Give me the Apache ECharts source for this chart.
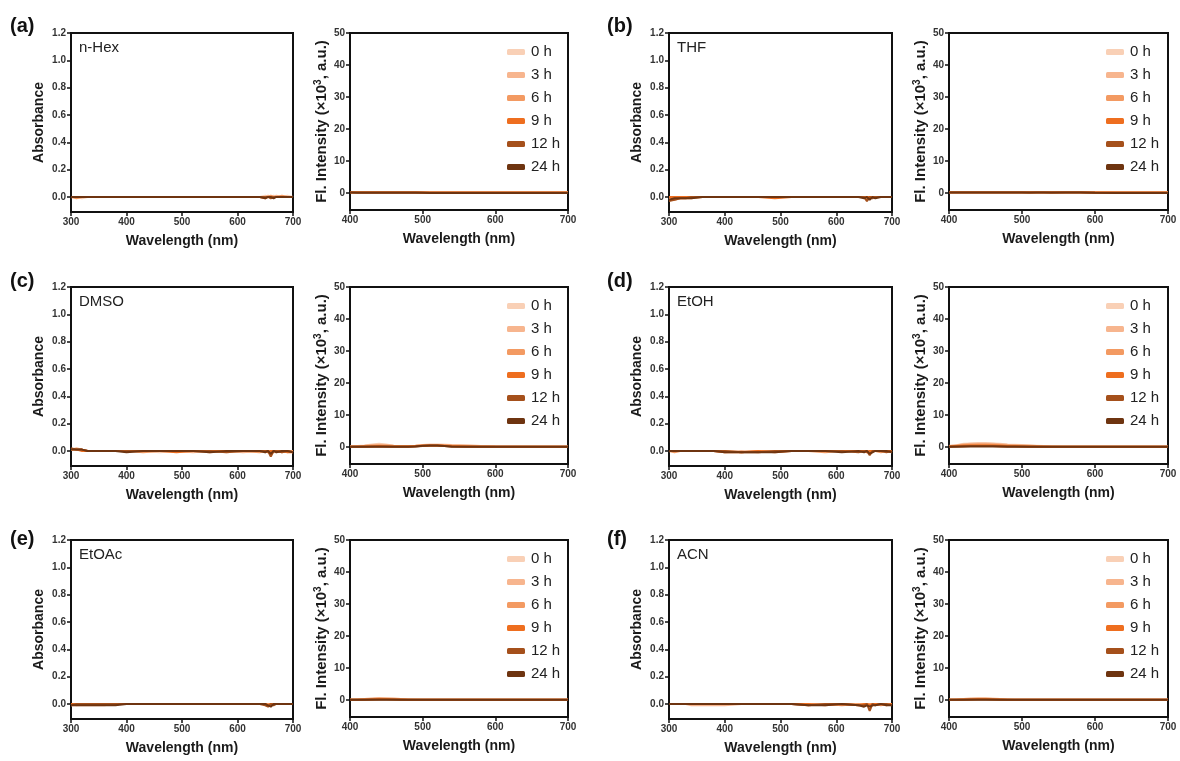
<!DOCTYPE html>
<html>
<head>
<meta charset="utf-8">
<script src="https://cdn.jsdelivr.net/npm/echarts@6/dist/echarts.min.js"></script>
<style>
  html, body { margin: 0; padding: 0; background: #ffffff; }
  #chart { width: 1180px; height: 761px; }
</style>
</head>
<body>
<div id="chart"></div>
<script>
// ---- data ---------------------------------------------------------------
const panelLetters = ['(a)', '(b)', '(c)', '(d)', '(e)', '(f)'];
const solvents = ['n-Hex', 'THF', 'DMSO', 'EtOH', 'EtOAc', 'ACN'];
const timeLabels = ['0 h', '3 h', '6 h', '9 h', '12 h', '24 h'];
const timeColors = ['#F9D0B6', '#F7B58E', '#F39A62', '#EE6E1F', '#A5501B', '#6E3410'];

const absTicks = [0, 0.2, 0.4, 0.6, 0.8, 1.0, 1.2];
const flTicks = [0, 10, 20, 30, 40, 50];

// absorbance sampling wavelengths (nm)
const absWavelengths = [300, 310, 320, 330, 340, 360, 380, 400, 430, 460, 490, 520, 550, 580, 610, 640, 650, 655, 660, 665, 670, 680, 690, 700];

// absorbance, one row per time point (0, 3, 6, 9, 12, 24 h)
const absHex = [
  [0.00, 0.00, -0.01, 0.00, 0.00, 0.00, 0.00, 0.00, 0.00, 0.00, 0.00, 0.00, 0.00, 0.00, 0.00, 0.00, 0.01, 0.00, 0.00, 0.01, 0.00, 0.00, 0.01, 0.00],
  [0.00, 0.00, 0.00, 0.00, 0.00, 0.00, 0.00, 0.00, 0.00, 0.00, 0.00, 0.00, 0.00, 0.00, 0.00, 0.00, 0.00, 0.01, 0.00, 0.00, 0.01, 0.00, 0.00, 0.00],
  [0.00, -0.01, 0.00, 0.00, 0.00, 0.00, 0.00, 0.00, 0.00, 0.00, 0.00, 0.00, 0.00, 0.00, 0.00, 0.00, 0.00, 0.00, 0.01, 0.00, 0.00, 0.01, 0.00, 0.00],
  [0.00, 0.00, 0.00, 0.00, 0.00, 0.00, 0.00, 0.00, 0.00, 0.00, 0.00, 0.00, 0.00, 0.00, 0.00, 0.00, -0.01, 0.00, 0.00, 0.00, 0.00, 0.00, 0.00, 0.00],
  [0.00, 0.00, 0.00, 0.00, 0.00, 0.00, 0.00, 0.00, 0.00, 0.00, 0.00, 0.00, 0.00, 0.00, 0.00, 0.00, 0.00, 0.00, -0.01, 0.00, 0.00, 0.00, 0.00, 0.00],
  [0.00, 0.00, 0.00, 0.00, 0.00, 0.00, 0.00, 0.00, 0.00, 0.00, 0.00, 0.00, 0.00, 0.00, 0.00, 0.00, -0.01, 0.00, 0.00, -0.01, 0.00, 0.00, 0.00, 0.00]
];
const absThf = [
  [-0.02, -0.01, -0.01, 0.00, 0.00, 0.00, 0.00, 0.00, 0.00, 0.00, 0.00, 0.00, 0.00, 0.00, 0.00, 0.00, 0.00, 0.00, 0.00, 0.00, 0.00, 0.00, 0.00, 0.00],
  [-0.01, -0.01, 0.00, 0.00, 0.00, 0.00, 0.00, 0.00, 0.00, 0.00, 0.00, 0.00, 0.00, 0.00, 0.00, 0.00, 0.00, 0.00, 0.00, 0.00, 0.00, 0.00, 0.00, 0.00],
  [-0.02, -0.02, -0.01, -0.01, -0.01, 0.00, 0.00, 0.00, 0.00, 0.00, 0.00, 0.00, 0.00, 0.00, 0.00, 0.00, 0.00, -0.01, 0.00, 0.00, 0.00, 0.00, 0.00, 0.00],
  [0.00, 0.00, 0.00, 0.00, 0.00, 0.00, 0.00, 0.00, 0.00, 0.00, -0.01, 0.00, 0.00, 0.00, 0.00, 0.00, 0.00, 0.00, 0.00, 0.00, 0.00, 0.00, 0.00, 0.00],
  [-0.03, -0.02, -0.01, -0.01, 0.00, 0.00, 0.00, 0.00, 0.00, 0.00, 0.00, 0.00, 0.00, 0.00, 0.00, 0.00, 0.00, -0.03, 0.00, -0.01, 0.00, 0.00, 0.00, 0.00],
  [-0.02, -0.01, -0.01, -0.01, -0.01, 0.00, 0.00, 0.00, 0.00, 0.00, 0.00, 0.00, 0.00, 0.00, 0.00, 0.00, -0.01, 0.00, -0.02, 0.00, -0.01, 0.00, 0.00, 0.00]
];
const absDmso = [
  [0.01, 0.01, 0.01, 0.00, 0.00, 0.00, 0.00, 0.00, 0.00, -0.01, 0.00, 0.00, 0.00, -0.01, 0.00, 0.00, 0.00, 0.00, -0.01, 0.00, 0.00, 0.00, -0.01, 0.00],
  [0.01, 0.02, 0.01, 0.00, 0.00, 0.00, 0.00, 0.00, 0.00, 0.00, 0.00, -0.01, 0.00, 0.00, -0.01, 0.00, -0.01, 0.00, 0.00, 0.00, -0.01, 0.00, 0.00, -0.01],
  [0.01, 0.01, 0.01, 0.00, 0.00, 0.00, 0.00, 0.00, -0.01, 0.00, 0.00, 0.00, -0.01, 0.00, 0.00, -0.01, 0.00, 0.00, 0.00, -0.01, 0.00, -0.01, 0.00, 0.00],
  [0.01, 0.01, 0.00, 0.00, 0.00, 0.00, 0.00, 0.00, 0.00, 0.00, -0.01, 0.00, 0.00, 0.00, 0.00, 0.00, 0.00, -0.01, 0.00, 0.00, 0.00, 0.00, -0.01, -0.01],
  [0.02, 0.01, 0.01, 0.00, 0.00, 0.00, 0.00, 0.00, 0.00, 0.00, 0.00, 0.00, 0.00, -0.01, 0.00, 0.00, 0.00, 0.00, -0.04, 0.00, 0.00, -0.01, 0.00, -0.01],
  [0.01, 0.01, 0.01, 0.00, 0.00, 0.00, 0.00, -0.01, 0.00, 0.00, 0.00, 0.00, -0.01, 0.00, 0.00, 0.00, -0.01, 0.00, -0.02, 0.00, -0.01, 0.00, 0.00, -0.01]
];
const absEtoh = [
  [0.00, 0.00, 0.00, 0.00, 0.00, 0.00, 0.00, 0.00, -0.01, 0.00, 0.00, 0.00, 0.00, 0.00, 0.00, 0.00, 0.00, 0.00, 0.00, 0.00, 0.00, 0.00, 0.00, 0.00],
  [0.00, 0.00, 0.00, 0.00, 0.00, 0.00, 0.00, -0.01, 0.00, -0.01, 0.00, 0.00, 0.00, 0.00, 0.00, 0.00, 0.00, 0.00, -0.01, 0.00, 0.00, 0.00, 0.00, -0.01],
  [0.00, -0.01, 0.00, 0.00, 0.00, 0.00, 0.00, 0.00, -0.01, 0.00, 0.00, 0.00, 0.00, -0.01, 0.00, 0.00, 0.00, 0.00, 0.00, 0.00, 0.00, -0.01, 0.00, 0.00],
  [0.00, 0.00, 0.00, 0.00, 0.00, 0.00, 0.00, -0.01, -0.01, 0.00, -0.01, 0.00, 0.00, 0.00, 0.00, 0.00, 0.00, -0.01, 0.00, 0.00, 0.00, 0.00, 0.00, 0.00],
  [0.00, 0.00, 0.00, 0.00, 0.00, 0.00, 0.00, 0.00, -0.01, -0.01, 0.00, 0.00, 0.00, 0.00, 0.00, -0.01, 0.00, 0.00, -0.03, 0.00, 0.00, 0.00, -0.01, 0.00],
  [0.00, 0.00, 0.00, 0.00, 0.00, 0.00, 0.00, -0.01, -0.01, -0.01, -0.01, 0.00, 0.00, 0.00, -0.01, 0.00, -0.01, 0.00, -0.02, -0.01, 0.00, 0.00, 0.00, -0.01]
];
const absEtoac = [
  [-0.01, -0.01, 0.00, 0.00, 0.00, 0.00, 0.00, 0.00, 0.00, 0.00, 0.00, 0.00, 0.00, 0.00, 0.00, 0.00, 0.00, 0.00, 0.00, 0.00, 0.00, 0.00, 0.00, 0.00],
  [0.00, -0.01, -0.01, -0.01, -0.01, -0.01, 0.00, 0.00, 0.00, 0.00, 0.00, 0.00, 0.00, 0.00, 0.00, 0.00, 0.00, 0.00, 0.00, 0.00, 0.00, 0.00, 0.00, 0.00],
  [0.00, 0.00, 0.00, 0.00, 0.00, 0.00, 0.00, 0.00, 0.00, 0.00, 0.00, 0.00, 0.00, 0.00, 0.00, 0.00, 0.00, 0.00, 0.00, 0.00, 0.00, 0.00, 0.00, 0.00],
  [0.00, 0.00, 0.00, 0.00, 0.00, 0.00, 0.00, 0.00, 0.00, 0.00, 0.00, 0.00, 0.00, 0.00, 0.00, 0.00, 0.00, -0.01, 0.00, 0.00, 0.00, 0.00, 0.00, 0.00],
  [-0.01, 0.00, 0.00, 0.00, 0.00, 0.00, 0.00, 0.00, 0.00, 0.00, 0.00, 0.00, 0.00, 0.00, 0.00, 0.00, -0.01, -0.02, 0.00, -0.01, 0.00, 0.00, 0.00, 0.00],
  [-0.01, -0.01, -0.01, -0.01, -0.01, -0.01, -0.01, 0.00, 0.00, 0.00, 0.00, 0.00, 0.00, 0.00, 0.00, 0.00, 0.00, -0.01, -0.02, 0.00, 0.00, 0.00, 0.00, 0.00]
];
const absAcn = [
  [0.00, 0.00, 0.00, 0.00, 0.00, 0.00, 0.00, 0.00, 0.00, 0.00, 0.00, 0.00, 0.00, 0.00, 0.00, 0.00, 0.00, 0.00, 0.00, 0.00, 0.00, 0.00, 0.00, 0.00],
  [0.00, 0.00, 0.00, 0.00, -0.01, -0.01, -0.01, -0.01, 0.00, 0.00, 0.00, 0.00, 0.00, 0.00, 0.00, 0.00, 0.00, 0.00, 0.00, 0.00, 0.00, 0.00, 0.00, 0.00],
  [0.00, 0.00, 0.00, 0.00, 0.00, 0.00, 0.00, 0.00, 0.00, 0.00, 0.00, 0.00, -0.01, 0.00, -0.01, 0.00, -0.01, 0.00, 0.00, -0.01, 0.00, -0.01, 0.00, 0.00],
  [0.00, 0.00, 0.00, 0.00, 0.00, 0.00, 0.00, 0.00, 0.00, 0.00, 0.00, 0.00, 0.00, -0.01, 0.00, -0.01, 0.00, 0.00, -0.01, 0.00, 0.00, 0.00, -0.01, 0.00],
  [0.00, 0.00, 0.00, 0.00, 0.00, 0.00, 0.00, 0.00, 0.00, 0.00, 0.00, 0.00, -0.01, 0.00, 0.00, -0.01, -0.01, 0.00, -0.05, 0.00, -0.01, 0.00, 0.00, -0.01],
  [0.00, 0.00, 0.00, 0.00, 0.00, 0.00, 0.00, 0.00, 0.00, 0.00, 0.00, 0.00, -0.01, -0.01, 0.00, -0.01, -0.02, -0.01, -0.02, -0.01, -0.01, 0.00, -0.01, -0.01]
];

// fluorescence sampling wavelengths (nm)
const flWavelengths = [400, 410, 420, 430, 440, 450, 460, 470, 480, 490, 500, 510, 520, 530, 540, 560, 580, 600, 630, 660, 700];

// fluorescence intensity (x10^3 a.u.), one row per time point
const flHex = [
  [0.3, 0.3, 0.3, 0.3, 0.3, 0.3, 0.3, 0.3, 0.3, 0.3, 0.3, 0.2, 0.2, 0.2, 0.2, 0.2, 0.2, 0.2, 0.2, 0.2, 0.2],
  [0.3, 0.3, 0.3, 0.3, 0.3, 0.3, 0.3, 0.3, 0.3, 0.3, 0.2, 0.2, 0.2, 0.2, 0.2, 0.2, 0.2, 0.2, 0.2, 0.2, 0.2],
  [0.3, 0.3, 0.3, 0.3, 0.3, 0.3, 0.3, 0.3, 0.3, 0.3, 0.2, 0.2, 0.2, 0.2, 0.2, 0.2, 0.2, 0.2, 0.2, 0.2, 0.2],
  [0.2, 0.2, 0.2, 0.2, 0.2, 0.2, 0.2, 0.2, 0.2, 0.2, 0.2, 0.2, 0.2, 0.2, 0.2, 0.2, 0.2, 0.2, 0.2, 0.2, 0.2],
  [0.2, 0.2, 0.2, 0.2, 0.2, 0.2, 0.2, 0.2, 0.2, 0.2, 0.1, 0.1, 0.1, 0.1, 0.1, 0.1, 0.1, 0.1, 0.1, 0.1, 0.1],
  [0.2, 0.1, 0.1, 0.1, 0.1, 0.1, 0.1, 0.1, 0.1, 0.1, 0.1, 0.0, 0.0, 0.0, 0.0, 0.0, 0.0, 0.0, 0.0, 0.0, 0.0]
];
const flThf = [
  [0.3, 0.3, 0.3, 0.3, 0.3, 0.3, 0.3, 0.3, 0.3, 0.3, 0.3, 0.3, 0.3, 0.3, 0.3, 0.3, 0.3, 0.3, 0.2, 0.2, 0.2],
  [0.3, 0.3, 0.3, 0.3, 0.3, 0.3, 0.3, 0.3, 0.3, 0.3, 0.3, 0.3, 0.3, 0.3, 0.3, 0.3, 0.3, 0.3, 0.2, 0.2, 0.2],
  [0.3, 0.3, 0.3, 0.3, 0.3, 0.3, 0.3, 0.3, 0.3, 0.3, 0.3, 0.3, 0.3, 0.3, 0.3, 0.3, 0.3, 0.2, 0.2, 0.2, 0.2],
  [0.2, 0.2, 0.2, 0.2, 0.2, 0.2, 0.2, 0.2, 0.2, 0.2, 0.2, 0.2, 0.2, 0.2, 0.2, 0.2, 0.2, 0.2, 0.2, 0.2, 0.2],
  [0.2, 0.2, 0.2, 0.2, 0.2, 0.2, 0.2, 0.2, 0.2, 0.2, 0.2, 0.1, 0.2, 0.2, 0.1, 0.2, 0.2, 0.1, 0.1, 0.1, 0.1],
  [0.2, 0.2, 0.2, 0.2, 0.2, 0.2, 0.2, 0.2, 0.2, 0.2, 0.2, 0.2, 0.2, 0.2, 0.2, 0.2, 0.2, 0.1, 0.0, 0.0, 0.0]
];
const flDmso = [
  [0.2, 0.3, 0.5, 0.8, 1.0, 0.8, 0.4, 0.3, 0.3, 0.4, 0.6, 0.7, 0.7, 0.6, 0.6, 0.5, 0.3, 0.2, 0.2, 0.1, 0.1],
  [0.2, 0.3, 0.4, 0.6, 0.7, 0.6, 0.4, 0.3, 0.3, 0.4, 0.6, 0.7, 0.7, 0.7, 0.6, 0.5, 0.3, 0.2, 0.1, 0.1, 0.1],
  [0.1, 0.2, 0.3, 0.4, 0.5, 0.4, 0.3, 0.3, 0.3, 0.3, 0.5, 0.6, 0.6, 0.5, 0.4, 0.3, 0.2, 0.1, 0.1, 0.1, 0.1],
  [0.1, 0.1, 0.2, 0.2, 0.3, 0.2, 0.2, 0.2, 0.2, 0.3, 0.4, 0.5, 0.5, 0.4, 0.3, 0.2, 0.1, 0.1, 0.1, 0.1, 0.1],
  [0.1, 0.1, 0.1, 0.2, 0.2, 0.2, 0.1, 0.1, 0.1, 0.2, 0.3, 0.4, 0.4, 0.3, 0.2, 0.1, 0.1, 0.1, 0.1, 0.1, 0.1],
  [0.1, 0.1, 0.1, 0.1, 0.1, 0.1, 0.1, 0.1, 0.1, 0.2, 0.4, 0.5, 0.5, 0.3, 0.1, 0.1, 0.1, 0.1, 0.1, 0.1, 0.1]
];
const flEtoh = [
  [0.3, 0.6, 1.0, 1.1, 1.2, 1.2, 1.1, 1.0, 0.8, 0.7, 0.6, 0.5, 0.4, 0.3, 0.2, 0.1, 0.1, 0.1, 0.1, 0.1, 0.1],
  [0.3, 0.5, 0.9, 1.0, 1.1, 1.1, 1.0, 0.9, 0.7, 0.6, 0.5, 0.5, 0.3, 0.2, 0.2, 0.1, 0.1, 0.1, 0.1, 0.1, 0.1],
  [0.2, 0.4, 0.6, 0.7, 0.8, 0.8, 0.7, 0.6, 0.5, 0.4, 0.4, 0.3, 0.2, 0.2, 0.1, 0.1, 0.1, 0.1, 0.1, 0.1, 0.1],
  [0.2, 0.3, 0.4, 0.5, 0.5, 0.5, 0.5, 0.4, 0.3, 0.3, 0.2, 0.2, 0.2, 0.1, 0.1, 0.1, 0.1, 0.1, 0.1, 0.1, 0.1],
  [0.1, 0.2, 0.2, 0.3, 0.3, 0.3, 0.3, 0.2, 0.2, 0.2, 0.2, 0.1, 0.1, 0.1, 0.1, 0.1, 0.1, 0.1, 0.1, 0.1, 0.1],
  [0.1, 0.1, 0.2, 0.2, 0.2, 0.2, 0.2, 0.2, 0.1, 0.1, 0.1, 0.1, 0.1, 0.1, 0.1, 0.1, 0.1, 0.1, 0.1, 0.1, 0.1]
];
const flEtoac = [
  [0.1, 0.2, 0.3, 0.4, 0.5, 0.5, 0.4, 0.3, 0.2, 0.2, 0.1, 0.1, 0.1, 0.1, 0.1, 0.1, 0.1, 0.1, 0.1, 0.1, 0.1],
  [0.1, 0.2, 0.3, 0.5, 0.6, 0.5, 0.5, 0.3, 0.2, 0.1, 0.1, 0.1, 0.1, 0.1, 0.1, 0.1, 0.1, 0.1, 0.1, 0.1, 0.1],
  [0.1, 0.1, 0.2, 0.3, 0.4, 0.4, 0.3, 0.2, 0.1, 0.1, 0.1, 0.1, 0.1, 0.1, 0.1, 0.1, 0.1, 0.1, 0.1, 0.1, 0.1],
  [0.1, 0.1, 0.2, 0.2, 0.3, 0.3, 0.2, 0.2, 0.1, 0.1, 0.1, 0.1, 0.1, 0.1, 0.1, 0.1, 0.1, 0.1, 0.1, 0.1, 0.1],
  [0.1, 0.1, 0.1, 0.2, 0.2, 0.2, 0.2, 0.1, 0.1, 0.1, 0.1, 0.1, 0.1, 0.1, 0.1, 0.1, 0.1, 0.1, 0.1, 0.1, 0.1],
  [0.1, 0.1, 0.1, 0.1, 0.1, 0.1, 0.1, 0.1, 0.1, 0.1, 0.1, 0.1, 0.1, 0.1, 0.1, 0.1, 0.1, 0.1, 0.1, 0.1, 0.1]
];
const flAcn = [
  [0.1, 0.2, 0.3, 0.4, 0.5, 0.5, 0.4, 0.3, 0.2, 0.1, 0.1, 0.1, 0.1, 0.1, 0.1, 0.1, 0.1, 0.1, 0.1, 0.1, 0.1],
  [0.1, 0.2, 0.3, 0.5, 0.5, 0.5, 0.4, 0.3, 0.2, 0.1, 0.1, 0.1, 0.1, 0.1, 0.1, 0.1, 0.1, 0.1, 0.1, 0.1, 0.1],
  [0.1, 0.1, 0.2, 0.3, 0.4, 0.4, 0.3, 0.2, 0.1, 0.1, 0.1, 0.1, 0.1, 0.1, 0.1, 0.1, 0.1, 0.1, 0.1, 0.1, 0.1],
  [0.1, 0.1, 0.2, 0.2, 0.3, 0.3, 0.2, 0.2, 0.1, 0.1, 0.1, 0.1, 0.1, 0.1, 0.1, 0.1, 0.1, 0.1, 0.1, 0.1, 0.1],
  [0.1, 0.1, 0.1, 0.2, 0.2, 0.2, 0.2, 0.1, 0.1, 0.1, 0.1, 0.1, 0.1, 0.1, 0.1, 0.1, 0.1, 0.1, 0.1, 0.1, 0.1],
  [0.1, 0.1, 0.1, 0.1, 0.1, 0.1, 0.1, 0.1, 0.1, 0.1, 0.1, 0.1, 0.1, 0.1, 0.1, 0.1, 0.1, 0.1, 0.1, 0.1, 0.1]
];

const absSets = [absHex, absThf, absDmso, absEtoh, absEtoac, absAcn];
const flSets = [flHex, flThf, flDmso, flEtoh, flEtoac, flAcn];

// ---- layout -------------------------------------------------------------
const ROW_TOP = [33, 287, 540];
const LETTER_X = [10, 607];
const LETTER_Y = [27, 282, 540];
const ABS_LEFT = [71, 669], ABS_W = [222, 223], ABS_H = 179;
const FL_LEFT = [350, 949], FL_W = [218, 219], FL_H = 177;

const FONT = '"Liberation Sans", Arial, sans-serif';
const INK = '#111111';

function frameAxisLine() {
  return { show: true, onZero: false, lineStyle: { color: INK, width: 2 } };
}
function tickStyle(custom) {
  const t = { show: true, inside: false, length: 4, lineStyle: { color: INK, width: 1.5 } };
  if (custom) t.customValues = custom;
  return t;
}
const tickLabelStyle = { color: '#333333', fontFamily: FONT, fontWeight: 'bold', fontSize: 10 };
const axisNameStyle = { color: '#1a1a1a', fontFamily: FONT, fontWeight: 'bold', fontSize: 14 };

function zip(xs, ys) {
  return xs.map((x, i) => [x, ys[i]]);
}

const grid = [], xAxis = [], yAxis = [], series = [], legend = [], graphic = [];

for (let p = 0; p < 6; p++) {
  const row = Math.floor(p / 2), col = p % 2;
  const top = ROW_TOP[row];
  const gAbs = grid.length;
  grid.push({ left: ABS_LEFT[col], top: top, width: ABS_W[col], height: ABS_H,
              show: true, borderColor: INK, borderWidth: 2, backgroundColor: 'transparent' });
  const gFl = grid.length;
  grid.push({ left: FL_LEFT[col], top: top, width: FL_W[col], height: FL_H,
              show: true, borderColor: INK, borderWidth: 2, backgroundColor: 'transparent' });

  // absorbance axes
  xAxis.push({ type: 'value', gridIndex: gAbs, min: 300, max: 700, interval: 100,
    name: 'Wavelength (nm)', nameLocation: 'middle', nameGap: 22, nameTextStyle: axisNameStyle,
    axisLine: frameAxisLine(), axisTick: tickStyle(), splitLine: { show: false },
    axisLabel: Object.assign({ margin: 5, showMinLabel: true, showMaxLabel: true }, tickLabelStyle) });
  yAxis.push({ type: 'value', gridIndex: gAbs, min: -0.11, max: 1.2,
    name: 'Absorbance', nameLocation: 'middle', nameGap: 25, nameTextStyle: axisNameStyle,
    axisLine: frameAxisLine(), axisTick: tickStyle(absTicks), splitLine: { show: false },
    axisLabel: Object.assign({ margin: 5, customValues: absTicks, formatter: v => v.toFixed(1) }, tickLabelStyle) });

  // fluorescence axes
  xAxis.push({ type: 'value', gridIndex: gFl, min: 400, max: 700, interval: 100,
    name: 'Wavelength (nm)', nameLocation: 'middle', nameGap: 22, nameTextStyle: axisNameStyle,
    axisLine: frameAxisLine(), axisTick: tickStyle(), splitLine: { show: false },
    axisLabel: Object.assign({ margin: 5, showMinLabel: true, showMaxLabel: true }, tickLabelStyle) });
  yAxis.push({ type: 'value', gridIndex: gFl, min: -5.3, max: 50,
    name: 'Fl. Intensity (×10{sup|3}, a.u.)', nameLocation: 'middle', nameGap: 20,
    nameTextStyle: Object.assign({}, axisNameStyle, { fontSize: 15, lineHeight: 17,
      rich: { sup: { fontFamily: FONT, fontWeight: 'bold', fontSize: 10, color: '#1a1a1a', verticalAlign: 'top', lineHeight: 17 } } }),
    axisLine: frameAxisLine(), axisTick: tickStyle(flTicks), splitLine: { show: false },
    axisLabel: Object.assign({ margin: 5, customValues: flTicks, formatter: v => String(v) }, tickLabelStyle) });

  for (let t = 0; t < timeLabels.length; t++) {
    series.push({ type: 'line', name: timeLabels[t], xAxisIndex: gAbs, yAxisIndex: gAbs,
      data: zip(absWavelengths, absSets[p][t]), showSymbol: false, symbol: 'none',
      lineStyle: { color: timeColors[t], width: 2 }, itemStyle: { color: timeColors[t] },
      clip: true, silent: true });
  }
  for (let t = 0; t < timeLabels.length; t++) {
    series.push({ type: 'line', name: timeLabels[t], xAxisIndex: gFl, yAxisIndex: gFl,
      data: zip(flWavelengths, flSets[p][t]), showSymbol: false, symbol: 'none',
      lineStyle: { color: timeColors[t], width: 2 }, itemStyle: { color: timeColors[t] },
      clip: true, silent: true });
  }

  legend.push({ data: timeLabels.slice(), orient: 'vertical', left: FL_LEFT[col] + 152, top: top + 6,
    icon: 'roundRect', itemWidth: 18, itemHeight: 6, itemGap: 7, selectedMode: false,
    textStyle: { fontFamily: FONT, fontSize: 15, color: '#222222', lineHeight: 16, padding: [0, 0, 0, 1] } });

  graphic.push({ type: 'text', left: LETTER_X[col], top: LETTER_Y[row] - 11,
    style: { text: panelLetters[p], font: 'bold 20px ' + FONT, fill: '#111111' } });
  graphic.push({ type: 'text', left: ABS_LEFT[col] + 8, top: top + 7,
    style: { text: solvents[p], font: '15px ' + FONT, fill: '#222222' } });
}

const chart = echarts.init(document.getElementById('chart'), null, { renderer: 'canvas' });
chart.setOption({
  backgroundColor: '#ffffff',
  animation: false,
  grid, xAxis, yAxis, series, legend, graphic
});
</script>
</body>
</html>
